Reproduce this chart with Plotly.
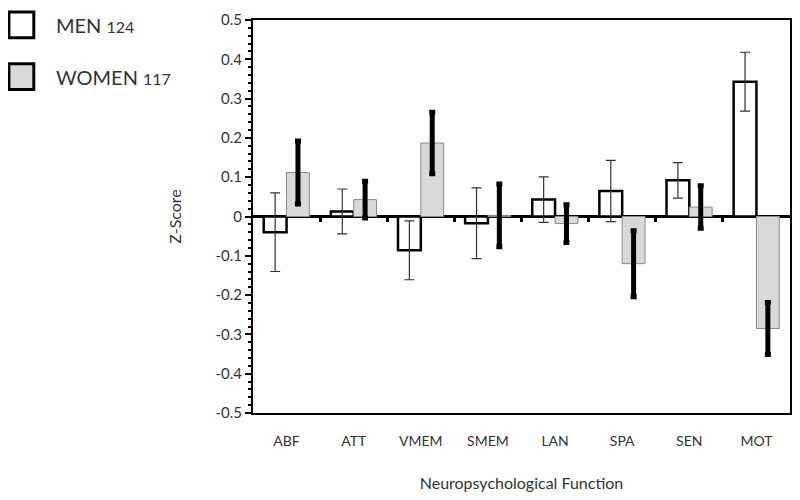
import plotly.graph_objects as go

# data
categories = ["ABF", "ATT", "VMEM", "SMEM", "LAN", "SPA", "SEN", "MOT"]
men_z = [-0.040, 0.013, -0.086, -0.017, 0.043, 0.065, 0.092, 0.343]
men_err = [0.100, 0.057, 0.075, 0.090, 0.058, 0.078, 0.045, 0.075]
women_z = [0.112, 0.043, 0.187, 0.003, -0.018, -0.120, 0.024, -0.285]
women_err = [0.080, 0.047, 0.078, 0.080, 0.048, 0.084, 0.054, 0.066]
ytick_vals = [0.5, 0.4, 0.3, 0.2, 0.1, 0, -0.1, -0.2, -0.3, -0.4, -0.5]
ytick_text = ["0.5", "0.4", "0.3", "0.2", "0.1", "0", "-0.1", "-0.2", "-0.3", "-0.4", "-0.5"]
legend_labels = [("MEN", "124"), ("WOMEN", "117")]

# page body has an 8px margin, so the figure is drawn a bit smaller
PAD = 8
W, H = 786, 484
L, R, T, B = 245, 2, 9, 79
FONT = "Lato"
TXT = "#333333"


def px_x(px):
    # screen pixel -> paper x
    return (px - PAD - L) / (W - L - R)


def px_y(py):
    # screen pixel -> paper y
    return 1 - (py - PAD - T) / (H - T - B)


x_idx = list(range(len(categories)))

fig = go.Figure()

fig.add_trace(go.Bar(
    x=x_idx, y=men_z, name="MEN",
    marker=dict(color="white", line=dict(color="black", width=2.5)),
    error_y=dict(type="data", array=men_err, color="#333333", thickness=1.2, width=5),
))
fig.add_trace(go.Bar(
    x=x_idx, y=women_z, name="WOMEN",
    marker=dict(color="#d9d9d9", line=dict(color="#8c8c8c", width=1)),
    error_y=dict(type="data", array=women_err, color="black", thickness=5, width=3),
))
# helper (invisible) trace so the zero-line tick axis gets drawn
fig.add_trace(go.Scatter(x=x_idx, y=[None] * len(x_idx), xaxis="x2",
                         mode="markers", showlegend=False, hoverinfo="skip"))

fig.update_layout(
    width=W, height=H,
    margin=dict(l=L, r=R, t=T, b=B),
    plot_bgcolor="white", paper_bgcolor="white",
    barmode="group", bargap=0.32, bargroupgap=0,
    showlegend=False,
    font=dict(family=FONT, color=TXT),
    xaxis=dict(
        range=[-0.5, len(categories) - 0.5],
        tickmode="array", tickvals=x_idx, ticktext=categories,
        showgrid=False, zeroline=False,
        showline=True, linecolor="black", linewidth=2, mirror=True,
        ticks="", ticklabelstandoff=14,
        tickfont=dict(size=14, color=TXT, family=FONT),
        title=dict(text="Neuropsychological Function", standoff=30,
                   font=dict(size=16, color=TXT, family=FONT)),
    ),
    xaxis2=dict(
        overlaying="x", anchor="free", position=0.5, side="bottom",
        range=[-0.5, len(categories) - 0.5],
        tickmode="array", tickvals=[i + 0.5 for i in x_idx[:-1]],
        showticklabels=False, ticks="outside", ticklen=4, tickwidth=3,
        tickcolor="black", showline=False, showgrid=False, zeroline=False,
    ),
    yaxis=dict(
        range=[-0.5, 0.5],
        tickmode="array", tickvals=ytick_vals, ticktext=ytick_text,
        ticklabeloverflow="allow",
        showgrid=False,
        zeroline=True, zerolinecolor="black", zerolinewidth=3,
        showline=True, linecolor="black", linewidth=2, mirror=True,
        ticks="outside", ticklen=6, tickwidth=2, tickcolor="black",
        minor=dict(dtick=0.02, ticks="outside", ticklen=3, tickwidth=2,
                   tickcolor="black", showgrid=False),
        tickfont=dict(size=15, color=TXT, family=FONT),
        title=dict(text="Z-Score", standoff=30,
                   font=dict(size=16, color=TXT, family=FONT)),
    ),
)

# hand-made legend: big outlined squares with text
fills = ["white", "#d9d9d9"]
tops = [9, 61]
for (lab, n), fill, top in zip(legend_labels, fills, tops):
    fig.add_shape(type="rect", xref="paper", yref="paper",
                  x0=px_x(8), x1=px_x(33), y0=px_y(top + 26), y1=px_y(top),
                  line=dict(color="black", width=3), fillcolor=fill)
    fig.add_annotation(
        xref="paper", yref="paper", x=px_x(53), y=px_y(top + 13),
        xanchor="left", yanchor="middle", showarrow=False,
        text=f"{lab} <span style='font-size:16px'>{n}</span>",
        font=dict(size=20, color=TXT, family=FONT),
    )

fig.write_html("out.html")
